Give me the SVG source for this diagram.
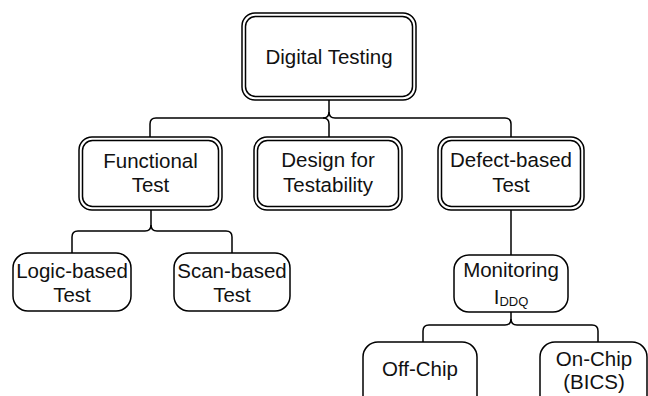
<svg xmlns="http://www.w3.org/2000/svg" width="648" height="396" viewBox="0 0 648 396">
<style>
.o{fill:#fff;stroke:#000;stroke-width:1.5}
.i{fill:none;stroke:#000;stroke-width:1.5}
.s{fill:#fff;stroke:#000;stroke-width:1.5}
.c{fill:none;stroke:#000;stroke-width:1.5}
text{font-family:"Liberation Sans",Arial,sans-serif;font-size:20.5px;fill:#111;text-anchor:middle}
.sub{font-size:13px}
</style>
<rect width="648" height="396" fill="#fff"/>
<g id="connectors">
<path class="c" d="M329,100 V112 Q329,118 323,118 H156 Q150,118 150,124 V137"/>
<path class="c" d="M329,112 Q329,118 335,118 H505 Q511,118 511,124 V137"/>
<path class="c" d="M323,118 Q329,118 329,124 V137"/>
<path class="c" d="M151,210 V225 Q151,231 145,231 H78 Q72,231 72,237 V253"/>
<path class="c" d="M151,225 Q151,231 157,231 H226 Q232,231 232,237 V253"/>
<path class="c" d="M511,210 V255"/>
<path class="c" d="M511,312 V319 Q511,325 505,325 H429 Q423,325 423,331 V342"/>
<path class="c" d="M511,319 Q511,325 517,325 H592 Q598,325 598,331 V342"/>
</g>
<g id="digital-testing">
<rect class="o" x="242" y="13" width="174" height="87" rx="13"/>
<rect class="i" x="245.5" y="16.5" width="167" height="80" rx="10"/>
<text x="329" y="64">Digital Testing</text>
</g>
<g id="functional-test">
<rect class="o" x="79" y="137" width="143" height="73" rx="13"/>
<rect class="i" x="82.5" y="140.5" width="136" height="66" rx="10"/>
<text x="150.5" y="168">Functional</text>
<text x="150.5" y="192">Test</text>
</g>
<g id="design-for-testability">
<rect class="o" x="254" y="137" width="148" height="73" rx="13"/>
<rect class="i" x="257.5" y="140.5" width="141" height="66" rx="10"/>
<text x="328" y="167">Design for</text>
<text x="328" y="192">Testability</text>
</g>
<g id="defect-based-test">
<rect class="o" x="438" y="137" width="146" height="73" rx="13"/>
<rect class="i" x="441.5" y="140.5" width="139" height="66" rx="10"/>
<text x="511" y="167">Defect-based</text>
<text x="511" y="192">Test</text>
</g>
<g id="logic-based-test">
<rect class="s" x="13" y="253" width="118" height="58" rx="15"/>
<text x="72" y="278">Logic-based</text>
<text x="72" y="302">Test</text>
</g>
<g id="scan-based-test">
<rect class="s" x="174" y="253" width="116" height="58" rx="15"/>
<text x="232" y="278">Scan-based</text>
<text x="232" y="302">Test</text>
</g>
<g id="monitoring-iddq">
<rect class="s" x="454" y="255" width="114" height="57" rx="15"/>
<text x="511" y="277">Monitoring</text>
<text x="511" y="304">I<tspan class="sub" dy="2">DDQ</tspan></text>
</g>
<g id="off-chip">
<rect class="s" x="363" y="342" width="114" height="70" rx="15"/>
<text x="420" y="376">Off-Chip</text>
</g>
<g id="on-chip">
<rect class="s" x="540" y="342" width="107" height="70" rx="15"/>
<text x="594" y="366">On-Chip</text>
<text x="594" y="389">(BICS)</text>
</g>
</svg>
